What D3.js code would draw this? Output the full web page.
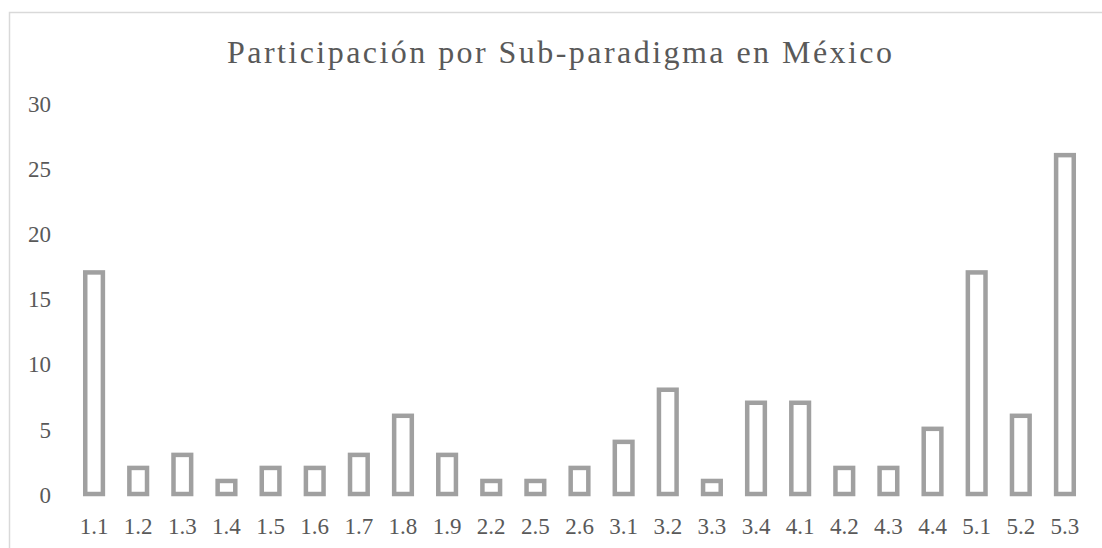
<!DOCTYPE html>
<html><head><meta charset="utf-8">
<script src="https://cdn.jsdelivr.net/npm/d3@7"></script>
<style>body{margin:0;background:#fff}svg{display:block}text{font-family:"Liberation Serif","Times New Roman",serif;fill:#595959}</style>
</head><body>
<svg id="chart" width="1102" height="548"></svg>
<script>
const title = "Participación por Sub-paradigma en México";
const categories = ["1.1","1.2","1.3","1.4","1.5","1.6","1.7","1.8","1.9","2.2","2.5","2.6","3.1","3.2","3.3","3.4","4.1","4.2","4.3","4.4","5.1","5.2","5.3"];
const values = [17,2,3,1,2,2,3,6,3,1,1,2,4,8,1,7,7,2,2,5,17,6,26];
const yTicks = [0,5,10,15,20,25,30];

const svg = d3.select("#chart");
svg.append("rect").attr("x",9.5).attr("y",12.5).attr("width",1102).attr("height",560)
  .attr("fill","none").attr("stroke","#d9d9d9").attr("stroke-width",1.5);

const x = d3.scaleBand().domain(categories).range([72,1087]).paddingInner(0.6).paddingOuter(0.3);
const y = d3.scaleLinear().domain([0,30]).range([494,103]);

svg.append("text").attr("x",559.5).attr("y",63).attr("text-anchor","middle")
  .attr("font-size",32).attr("textLength",665).attr("lengthAdjust","spacing").text(title);

const yAxis = svg.append("g").attr("transform","translate(51,0)")
  .call(d3.axisLeft(y).tickValues(yTicks).tickSize(0).tickPadding(0));
yAxis.select(".domain").remove();
yAxis.selectAll("text").attr("font-size",23).attr("fill","#636363").attr("dy","0.36em")
  .style("font-family","'Liberation Serif',serif");

const xAxis = svg.append("g").attr("transform","translate(0,494)")
  .call(d3.axisBottom(x).tickSize(0).tickPadding(24));
xAxis.select(".domain").remove();
xAxis.selectAll("text").attr("font-size",23).attr("fill","#636363").attr("dy","0.71em")
  .style("font-family","'Liberation Serif',serif");

svg.append("g").selectAll("rect").data(categories).join("rect")
  .attr("x",d=>x(d)).attr("width",x.bandwidth())
  .attr("y",(d,i)=>y(values[i])).attr("height",(d,i)=>y(0)-y(values[i]))
  .attr("fill","#fff").attr("stroke","#a0a0a0").attr("stroke-width",4.5);
</script>
</body></html>
